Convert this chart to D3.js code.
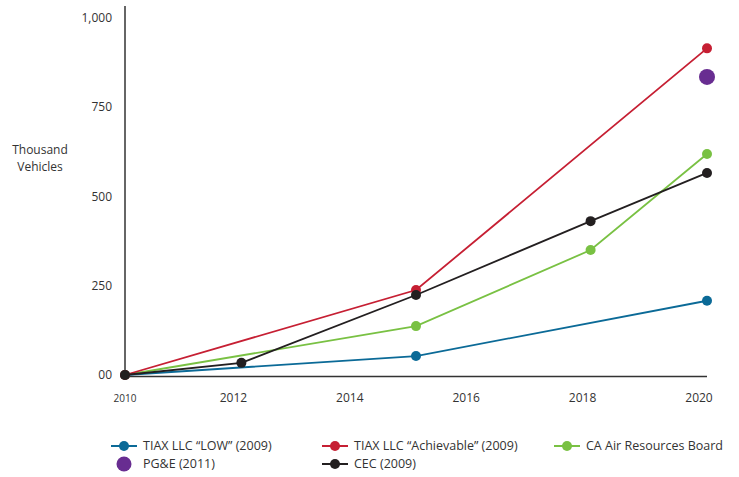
<!DOCTYPE html>
<html>
<head>
<meta charset="utf-8">
<script src="https://cdn.jsdelivr.net/npm/d3@7"></script>
<style>
  body { margin: 0; background: #fff; }
  text { font-family: "Open Sans", Lato, sans-serif; fill: #333; }
</style>
</head>
<body>
<div id="chart"></div>
<script>
// data
var years = [2010, 2012, 2015, 2018, 2020];
var xTicks = [2010, 2012, 2014, 2016, 2018, 2020];
var yTicks = [0, 250, 500, 750, 1000];
var yTickLabels = ["00", "250", "500", "750", "1,000"];

var tiaxLow = [0, null, 53, null, 208];
var tiaxAchievable = [0, null, 238, null, 915];
var carb = [0, null, 137, 350, 619];
var cec = [0, 34, 224, 431, 566];
var pge = [null, null, null, null, 835];

var seriesNames = ["TIAX LLC \u201cLOW\u201d (2009)", "TIAX LLC \u201cAchievable\u201d (2009)",
  "CA Air Resources Board", "PG&E (2011)", "CEC (2009)"];
var colors = ["#0b6a97", "#c61f33", "#79c143", "#682d91", "#231f20"];

var width = 739, height = 477;

var svg = d3.select("#chart").append("svg")
    .attr("width", width)
    .attr("height", height);

var x = d3.scaleLinear().domain([2010, 2020]).range([125, 707]);
var y = d3.scaleLinear().domain([0, 1000]).range([375, 18]);

// axes lines
svg.append("line")
    .attr("x1", x(2010)).attr("x2", x(2010))
    .attr("y1", 6).attr("y2", y(0) + 1.5)
    .attr("stroke", "#333").attr("stroke-width", 1.5);
svg.append("line")
    .attr("x1", x(2010)).attr("x2", x(2020))
    .attr("y1", y(0) + 1.5).attr("y2", y(0) + 1.5)
    .attr("stroke", "#333").attr("stroke-width", 1.5);

// y tick labels
svg.selectAll(".ylab")
    .data(yTicks)
  .enter().append("text")
    .attr("class", "ylab")
    .attr("x", 112)
    .attr("y", function(d) { return y(d); })
    .attr("dy", "0.35em")
    .attr("text-anchor", "end")
    .style("font-size", "12px")
    .text(function(d, i) { return yTickLabels[i]; });

// x tick labels (labels sit a bit left of the year position)
svg.selectAll(".xlab")
    .data(xTicks)
  .enter().append("text")
    .attr("class", "xlab")
    .attr("x", function(d, i) { return i == 0 ? x(d) : x(d) - 8; })
    .attr("y", 398)
    .attr("dy", "0.35em")
    .attr("text-anchor", "middle")
    .style("font-size", function(d, i) { return i == 0 ? "10px" : "12px"; })
    .text(function(d) { return d; });

// y axis title
svg.append("text")
    .attr("x", 40).attr("y", 150)
    .attr("dy", "0.35em")
    .attr("text-anchor", "middle")
    .style("font-size", "12px")
    .text("Thousand");
svg.append("text")
    .attr("x", 40).attr("y", 167)
    .attr("dy", "0.35em")
    .attr("text-anchor", "middle")
    .style("font-size", "12px")
    .text("Vehicles");

function toPoints(vals) {
  var pts = [];
  for (var i = 0; i < years.length; i++) {
    if (vals[i] != null) pts.push({year: years[i], value: vals[i]});
  }
  return pts;
}

var line = d3.line()
    .x(function(d) { return x(d.year); })
    .y(function(d) { return y(d.value); });

// draw order: green, blue, red, black on top
var drawOrder = [
  {vals: carb, c: colors[2]},
  {vals: tiaxLow, c: colors[0]},
  {vals: tiaxAchievable, c: colors[1]},
  {vals: cec, c: colors[4]}
];

drawOrder.forEach(function(s) {
  var pts = toPoints(s.vals);
  svg.append("path")
      .datum(pts)
      .attr("fill", "none")
      .attr("stroke", s.c)
      .attr("stroke-width", 1.8)
      .attr("d", line);
  svg.selectAll(null)
      .data(pts)
    .enter().append("circle")
      .attr("cx", function(d) { return x(d.year); })
      .attr("cy", function(d) { return y(d.value); })
      .attr("r", 5)
      .attr("fill", s.c);
});

// PG&E single point
svg.selectAll(null)
    .data(toPoints(pge))
  .enter().append("circle")
    .attr("cx", function(d) { return x(d.year); })
    .attr("cy", function(d) { return y(d.value); })
    .attr("r", 8)
    .attr("fill", colors[3]);

// legend
var legendPos = [[124, 446], [335, 446], [567, 446], [124, 464], [335, 464]];
var legend = svg.selectAll(".legend")
    .data(seriesNames)
  .enter().append("g")
    .attr("class", "legend")
    .attr("transform", function(d, i) {
      return "translate(" + legendPos[i][0] + "," + legendPos[i][1] + ")";
    });

legend.filter(function(d, i) { return i != 3; })
  .append("line")
    .attr("x1", -13).attr("x2", 13)
    .attr("y1", 0).attr("y2", 0)
    .attr("stroke", function(d) { return colors[seriesNames.indexOf(d)]; })
    .attr("stroke-width", 2);

legend.append("circle")
    .attr("r", function(d, i) { return i == 3 ? 7.5 : 5; })
    .attr("fill", function(d, i) { return colors[i]; });

legend.append("text")
    .attr("x", 19)
    .attr("dy", "0.35em")
    .style("font-size", "12.5px")
    .text(function(d) { return d; });
</script>
</body>
</html>
